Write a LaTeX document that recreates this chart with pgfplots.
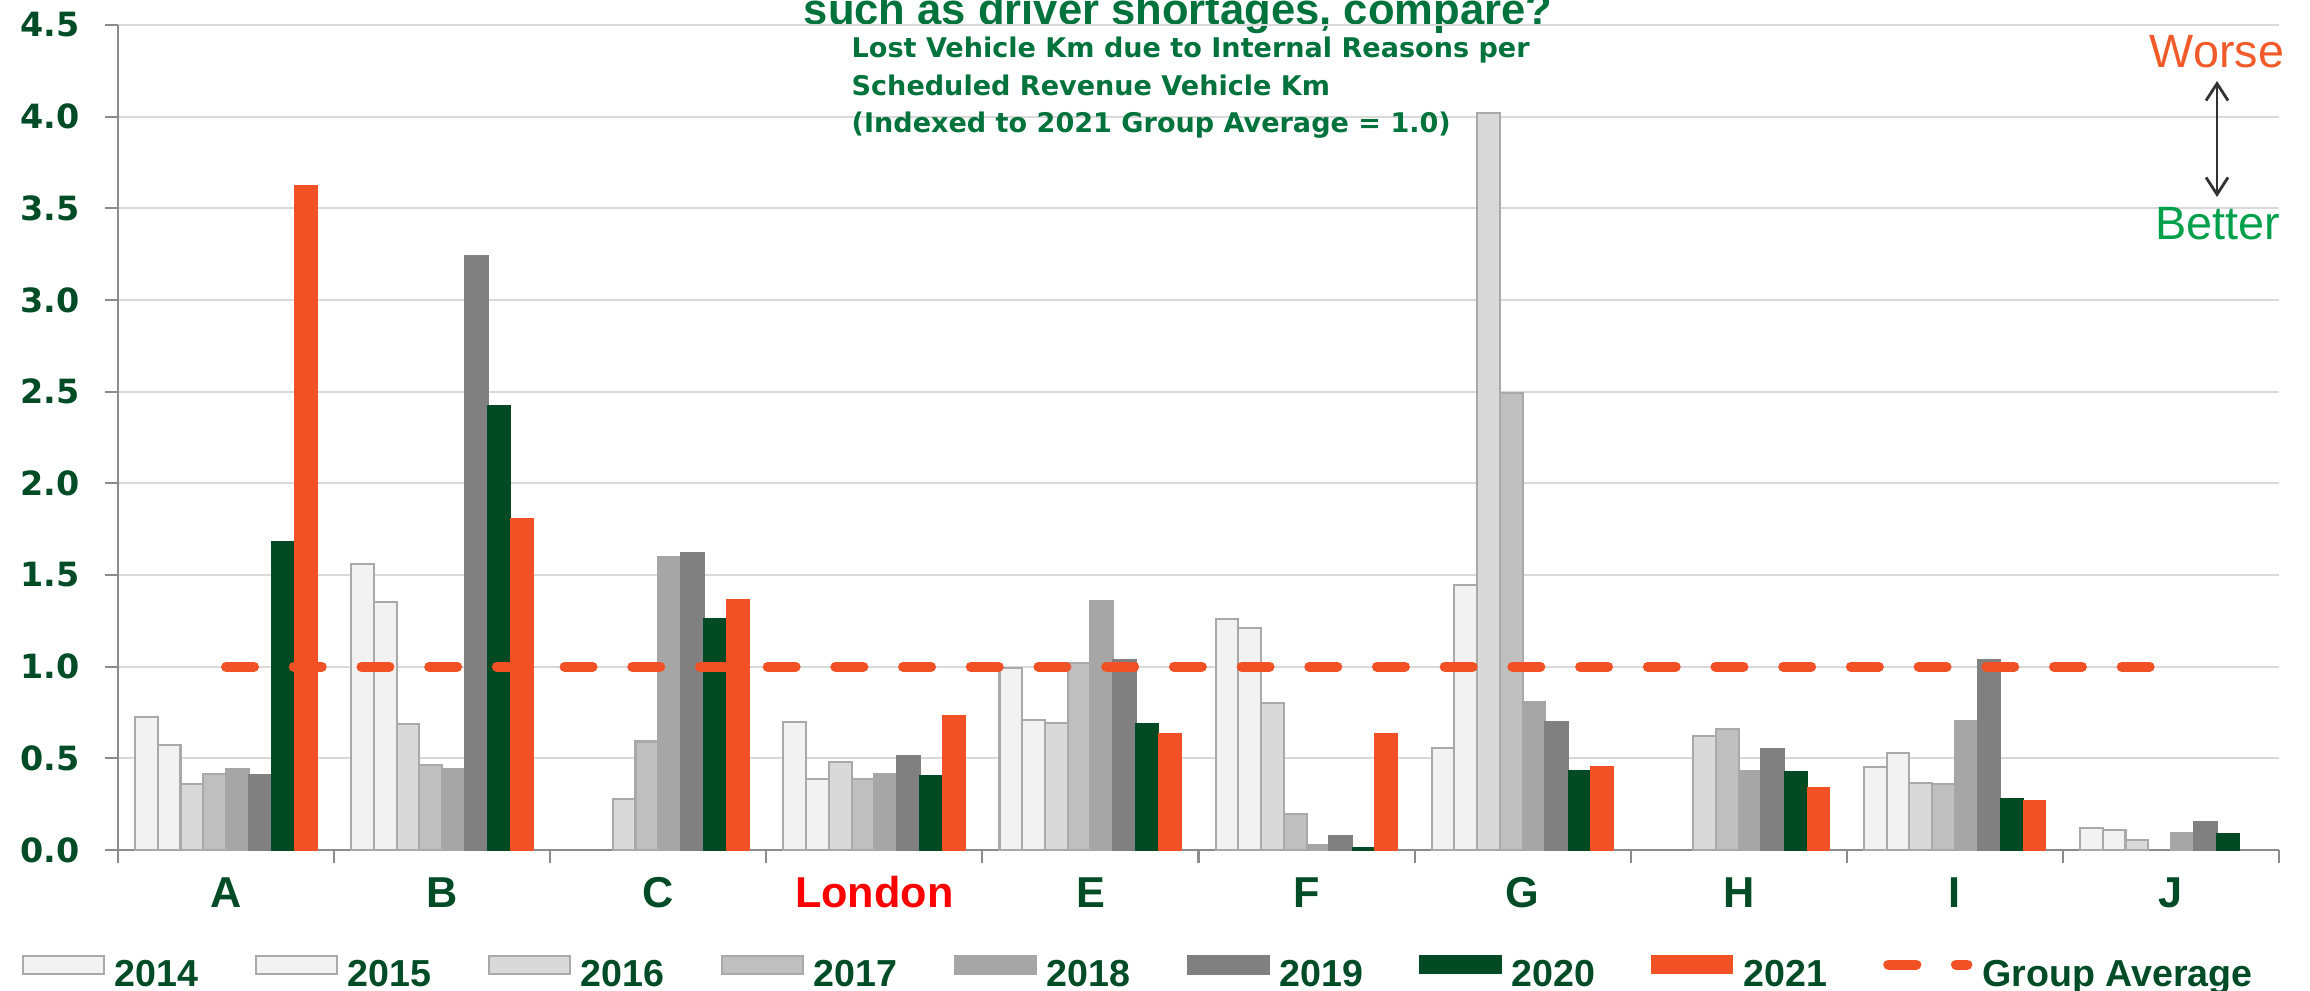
\documentclass[border=0pt]{standalone}
\usepackage{fontspec}
\setmainfont{Liberation Sans}
\newfontfamily\dvfont{DejaVu Sans}
\usepackage{pgfplots}
\pgfplotsset{compat=1.18}
\usetikzlibrary{arrows.meta}

\definecolor{cA}{HTML}{F2F2F2}
\definecolor{cB}{HTML}{F2F2F2}
\definecolor{cC}{HTML}{D9D9D9}
\definecolor{cD}{HTML}{BFBFBF}
\definecolor{cE}{HTML}{A6A6A6}
\definecolor{cF}{HTML}{808080}
\definecolor{cG}{HTML}{024A24}
\definecolor{cH}{HTML}{F15125}
\definecolor{edgegray}{HTML}{A9A9A9}
\definecolor{gridgray}{HTML}{D9D9D9}
\definecolor{axisgray}{HTML}{8C8C8C}
\definecolor{catgreen}{RGB}{0,76,38}
\definecolor{titlegreen}{RGB}{0,114,60}
\definecolor{bettergreen}{RGB}{0,160,75}
\definecolor{worseorange}{HTML}{F15A29}
\definecolor{londonred}{HTML}{FF0000}

\pgfplotsset{
  barlegend/.style={legend image code/.code={\draw[##1] (0cm,0.02cm) rectangle (0.81cm,0.20cm);}},
  avglegend/.style={legend image code/.code={\draw[##1] (0cm,0.11cm) -- (0.79cm,0.11cm);}},
}

\begin{document}
\begin{tikzpicture}
\path[use as bounding box] (0,0) rectangle (23.1,9.9);

% title, cut off by the top edge of the slide crop
\node[anchor=base, font=\fontsize{12.4}{13}\selectfont\bfseries, text=titlegreen]
  at (11.78,9.65) {such as driver shortages, compare?};

\begin{axis}[
  at={(1.18cm,1.40cm)}, anchor=south west,
  scale only axis, width=21.61cm, height=8.25cm,
  xmin=-0.5, xmax=9.5, ymin=0, ymax=4.5,
  bar width=0.2275cm,
  axis x line*=bottom, axis y line*=left,
  axis line style={draw=axisgray, line width=0.6pt},
  tick align=outside,
  major tick length=0.13cm, minor tick length=0.13cm,
  tick style={draw=axisgray, line width=0.6pt},
  major x tick style={draw=none},
  xtick={0,1,2,3,4,5,6,7,8,9},
  minor xtick={-0.5,0.5,1.5,2.5,3.5,4.5,5.5,6.5,7.5,8.5,9.5},
  xticklabels={A,B,C,{\color{londonred}London},E,F,G,H,I,J},
  xticklabel style={font=\fontsize{12.3}{14}\selectfont\bfseries, text=catgreen,
    inner sep=0pt, anchor=base, yshift=-0.44cm},
  ytick={0,0.5,1,1.5,2,2.5,3,3.5,4,4.5},
  ymajorgrids,
  major grid style={draw=gridgray, line width=0.5pt},
  yticklabel style={font=\dvfont\bfseries\fontsize{9.5}{10}\selectfont, text=catgreen,
    inner sep=0pt, anchor=east, xshift=-0.25cm,
    /pgf/number format/fixed, /pgf/number format/fixed zerofill,
    /pgf/number format/precision=1, /pgf/number format/assume math mode=true},
  legend columns=9,
  legend style={at={(-0.0449,-0.149)}, anchor=west, draw=none, fill=none,
    inner sep=0pt, nodes={inner sep=0pt},
    font=\fontsize{10.7}{12}\selectfont\bfseries, text=catgreen,
    /tikz/every odd column/.append style={column sep=0.10cm},
    /tikz/every even column/.append style={column sep=0.562cm}},
]
\addplot[ybar, barlegend, bar shift=-0.79625cm, fill=cA, draw=edgegray, line width=0.6pt] coordinates {
  (0,0.725) (1,1.558) (3,0.699) (4,0.995) (5,1.261) (6,0.558) (8,0.455) (9,0.120)};
\addplot[ybar, barlegend, bar shift=-0.56875cm, fill=cB, draw=edgegray, line width=0.6pt] coordinates {
  (0,0.575) (1,1.353) (3,0.388) (4,0.710) (5,1.211) (6,1.444) (8,0.527) (9,0.111)};
\addplot[ybar, barlegend, bar shift=-0.34125cm, fill=cC, draw=edgegray, line width=0.6pt] coordinates {
  (0,0.361) (1,0.689) (2,0.276) (3,0.481) (4,0.691) (5,0.803) (6,4.020) (7,0.622) (8,0.365) (9,0.053)};
\addplot[ybar, barlegend, bar shift=-0.11375cm, fill=cD, draw=edgegray, line width=0.6pt] coordinates {
  (0,0.417) (1,0.464) (2,0.592) (3,0.387) (4,1.020) (5,0.196) (6,2.494) (7,0.661) (8,0.358)};
\addplot[ybar, barlegend, bar shift=0.11375cm, fill=cE, draw=cE, line width=0.6pt] coordinates {
  (0,0.444) (1,0.444) (2,1.599) (3,0.417) (4,1.359) (5,0.027) (6,0.808) (7,0.433) (8,0.704) (9,0.095)};
\addplot[ybar, barlegend, bar shift=0.34125cm, fill=cF, draw=cF, line width=0.6pt] coordinates {
  (0,0.408) (1,3.242) (2,1.622) (3,0.514) (4,1.038) (5,0.074) (6,0.700) (7,0.550) (8,1.036) (9,0.155)};
\addplot[ybar, barlegend, bar shift=0.56875cm, fill=cG, draw=cG, line width=0.3pt] coordinates {
  (0,1.683) (1,2.422) (2,1.263) (3,0.408) (4,0.691) (5,0.013) (6,0.433) (7,0.428) (8,0.282) (9,0.089)};
\addplot[ybar, barlegend, bar shift=0.79625cm, fill=cH, draw=cH, line width=0.3pt] coordinates {
  (0,3.625) (1,1.808) (2,1.365) (3,0.731) (4,0.635) (5,0.633) (6,0.453) (7,0.342) (8,0.271)};
\addplot[sharp plot, avglegend, draw=cH, line width=0.1cm, line cap=round,
  dash pattern=on 0.28cm off 0.397cm]
  coordinates {(0,1) (9,1)};
\legend{2014,2015,2016,2017,2018,2019,2020,2021,Group Average}
\end{axis}

% chart subtitle
\begin{scope}[every node/.style={anchor=base west, inner sep=0pt,
    font=\dvfont\bfseries\fontsize{7.7}{9}\selectfont, text=titlegreen}]
  \node at (8.51,9.32) {Lost Vehicle Km due to Internal Reasons per};
  \node at (8.51,8.94) {Scheduled Revenue Vehicle Km};
  \node at (8.51,8.57) {(Indexed to 2021 Group Average = 1.0)};
\end{scope}

% worse / better marker
\node[font=\fontsize{13.3}{15}\selectfont, text=worseorange, inner sep=0pt] at (22.17,9.38) {Worse};
\node[font=\fontsize{13.3}{15}\selectfont, text=bettergreen, inner sep=0pt] at (22.18,7.665) {Better};
\draw[{Straight Barb[length=0.17cm,width=0.22cm]}-{Straight Barb[length=0.17cm,width=0.22cm]},
  draw=black!80, line width=0.8pt] (22.17,9.09) -- (22.17,7.93);
\end{tikzpicture}
\end{document}
